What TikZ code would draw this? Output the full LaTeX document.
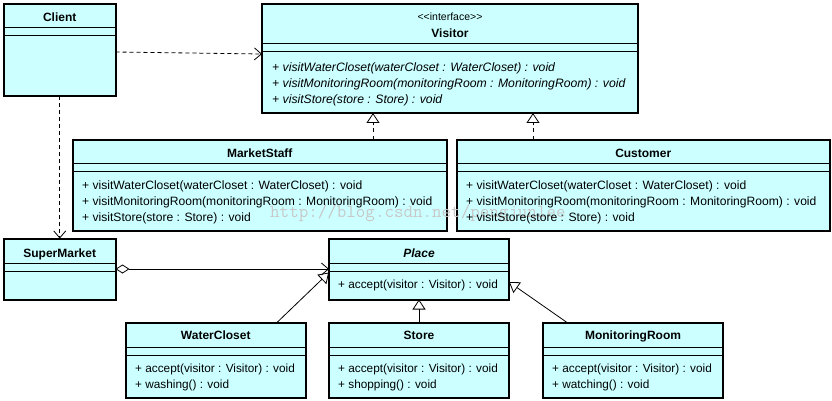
\documentclass[tikz,border=0pt]{standalone}
\usepackage{fontspec}
\setmainfont{Liberation Sans}
\usetikzlibrary{arrows.meta}
\definecolor{boxfill}{RGB}{204,255,255}
\definecolor{wmark}{RGB}{200,200,200}
\newcommand\sepl[3]{\draw[sepline] (#1,#3) -- (#2,#3);}
\begin{document}
\begin{tikzpicture}[x=1pt,y=-1pt,
  cls/.style={draw, line width=2pt, fill=boxfill, inner sep=0pt, outer sep=0pt, rectangle},
  sepline/.style={line width=1pt},
  ttl/.style={font=\fontsize{12}{14}\selectfont\bfseries, anchor=base, inner sep=0pt},
  ttli/.style={font=\fontsize{12}{14}\selectfont\bfseries\itshape, anchor=base, inner sep=0pt},
  ster/.style={font=\fontsize{10.5}{12}\selectfont, anchor=base, inner sep=0pt},
  op/.style={font=\fontsize{11.8}{14}\selectfont, anchor=base west, inner sep=0pt},
  opw/.style={font=\fontsize{12.1}{14}\selectfont, anchor=base west, inner sep=0pt},
  opi/.style={font=\fontsize{12.2}{14}\selectfont\itshape, anchor=base west, inner sep=0pt},
  conn/.style={line width=0.8pt},
  dep/.style={conn, dash pattern=on 4pt off 3pt, -{Straight Barb[length=7pt,width=12pt,line width=0.8pt]}},
  real/.style={conn, dash pattern=on 4pt off 3pt, -{Triangle[open,length=10pt,width=13pt,line width=0.8pt]}},
  gen/.style={conn, -{Triangle[open,length=10pt,width=13pt,line width=0.8pt]}},
  agg/.style={conn, {Diamond[open,length=14pt,width=9pt,line width=0.8pt]}-{Straight Barb[length=7pt,width=12pt,line width=0.8pt]}},
  wm/.style={font=\fontsize{18.5}{20}\selectfont\ttfamily, text=wmark, anchor=base west, inner sep=0pt}
]
\path[use as bounding box] (0,0) rectangle (832,401);

% ---- class boxes ----
\node[cls, minimum width=111.5pt, minimum height=92pt] (client) at (59.75,50) {};
\node[cls, minimum width=376pt, minimum height=109pt] (visitor) at (450,58.5) {};
\node[cls, minimum width=374.5pt, minimum height=91.5pt] (staff) at (259.75,185.25) {};
\node[cls, minimum width=373.5pt, minimum height=91.5pt] (customer) at (643.25,185.25) {};
\node[cls, minimum width=111.5pt, minimum height=61pt] (market) at (59.75,269) {};
\node[cls, minimum width=180pt, minimum height=61pt] (place) at (419,269) {};
\node[cls, minimum width=180.5pt, minimum height=75.5pt] (closet) at (215.75,360.25) {};
\node[cls, minimum width=180pt, minimum height=75.5pt] (store) at (419,360.25) {};
\node[cls, minimum width=180pt, minimum height=75.5pt] (room) at (633,360.25) {};

% ---- compartment lines ----
\sepl{4}{115.5}{28}\sepl{4}{115.5}{36}
\sepl{262}{638}{44}\sepl{262}{638}{52}
\sepl{72.5}{447}{163.5}\sepl{72.5}{447}{171.5}
\sepl{456.5}{830}{163.5}\sepl{456.5}{830}{171.5}
\sepl{4}{115.5}{263.5}\sepl{4}{115.5}{271.5}
\sepl{329}{509}{263.5}\sepl{329}{509}{271.5}
\sepl{125.5}{306}{347.5}\sepl{125.5}{306}{355.5}
\sepl{329}{509}{347.5}\sepl{329}{509}{355.5}
\sepl{543}{723}{347.5}\sepl{543}{723}{355.5}

% ---- watermark ----
\node[wm] (wmtext) at (270,217) {http://blog.csdn.net/pengjunlee};

% ---- texts ----
\node[ttl] (clientT) at (59.75,21.5) {Client};
\node[ster] (visS) at (450,20.5) {\mbox{<}\mbox{<}interface\mbox{>}\mbox{>}};
\node[ttl] (visT) at (450,38) {Visitor};
\node[opi] (vis1) at (272,71.5) {+ visitWaterCloset(waterCloset : WaterCloset) : void};
\node[opi] (vis2) at (272,87.5) {+ visitMonitoringRoom(monitoringRoom : MonitoringRoom) : void};
\node[opi] (vis3) at (272,103.5) {+ visitStore(store : Store) : void};

\node[ttl] (staffT) at (259.75,157.5) {MarketStaff};
\node[opw] (staff1) at (82,189) {+ visitWaterCloset(waterCloset : WaterCloset) : void};
\node[opw] (staff2) at (82,205.5) {+ visitMonitoringRoom(monitoringRoom : MonitoringRoom) : void};
\node[opw] (staff3) at (82,221.5) {+ visitStore(store : Store) : void};

\node[ttl] (custT) at (643.25,157.5) {Customer};
\node[opw] (cust1) at (466,189) {+ visitWaterCloset(waterCloset : WaterCloset) : void};
\node[opw] (cust2) at (466,205.5) {+ visitMonitoringRoom(monitoringRoom : MonitoringRoom) : void};
\node[opw] (cust3) at (466,221.5) {+ visitStore(store : Store) : void};

\node[ttl] (marketT) at (59.75,257) {SuperMarket};
\node[ttli] (placeT) at (419,257) {Place};
\node[op] (place1) at (338,288) {+ accept(visitor : Visitor) : void};

\node[ttl] (closetT) at (215.75,339.5) {WaterCloset};
\node[op] (closet1) at (135,372) {+ accept(visitor : Visitor) : void};
\node[op] (closet2) at (135,388.5) {+ washing() : void};

\node[ttl] (storeT) at (419,339.5) {Store};
\node[op] (store1) at (338,372) {+ accept(visitor : Visitor) : void};
\node[op] (store2) at (338,388.5) {+ shopping() : void};

\node[ttl] (roomT) at (633,339.5) {MonitoringRoom};
\node[op] (room1) at (552,372) {+ accept(visitor : Visitor) : void};
\node[op] (room2) at (552,388.5) {+ watching() : void};

% ---- connectors ----
\coordinate (ax1) at (373,0);
\coordinate (ax2) at (533,0);
\draw[dep] ([yshift=-2pt]client.east) -- ([yshift=4.5pt]visitor.west);
\draw[dep] (client.south) -- (market.north);
\draw[real] (staff.north -| ax1) -- (visitor.south -| ax1);
\draw[real] (customer.north -| ax2) -- (visitor.south -| ax2);
\draw[agg] (market.east) -- (place.west);
\draw[gen] ([xshift=61.25pt]closet.north) -- ([yshift=-3.5pt]place.west);
\draw[gen] (store.north) -- (place.south);
\draw[gen] ([xshift=-66pt]room.north) -- ([yshift=-13pt]place.east);
\end{tikzpicture}
\end{document}
